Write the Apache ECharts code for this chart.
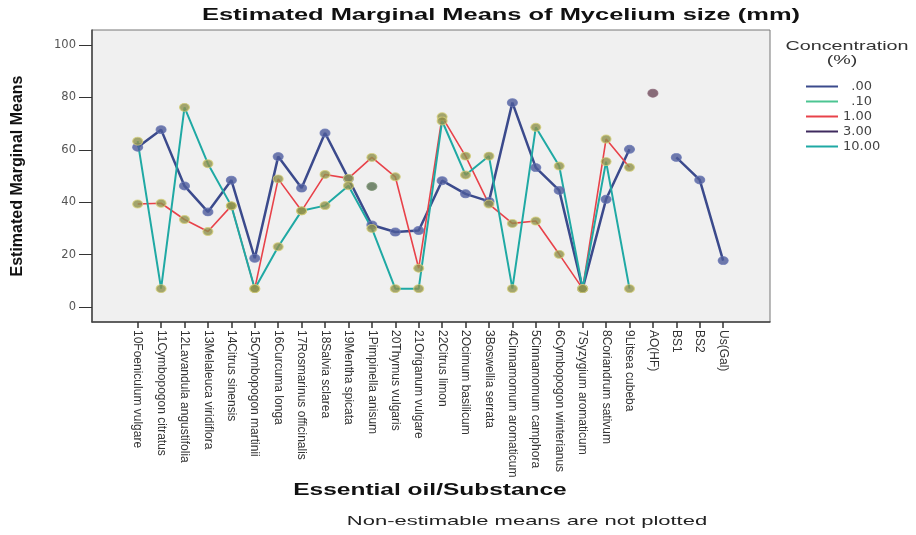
<!DOCTYPE html>
<html>
<head>
<meta charset="utf-8">
<script src="https://cdn.jsdelivr.net/npm/echarts@6/dist/echarts.min.js"></script>
<style>
html,body{margin:0;padding:0;background:#fff;}
#chart{width:916px;height:535px;}
</style>
</head>
<body>
<div id="chart"></div>
<script>
// ---- data ----
const categories = [
  '10Foeniculum vulgare','11Cymbopogon citratus','12Lavandula angustifolia','13Melaleuca viridiflora',
  '14Citrus sinensis','15Cymbopogon martinii','16Curcuma longa','17Rosmarinus officinalis',
  '18Salvia sclarea','19Mentha spicata','1Pimpinella anisum','20Thymus vulgaris',
  '21Origanum vulgare','22Citrus limon','2Ocimum basilicum','3Boswellia serrata',
  '4Cinnamomum aromaticum','5Cinnamomum camphora','6Cymbopogon winterianus','7Syzygium aromaticum',
  '8Coriandrum sativum','9Litsea cubeba','AO(HF)','BS1','BS2','Us(Gal)'
];
const seriesNames = ['.00', '.10', '1.00', '3.00', '10.00'];
const conc000 = [61.0, 67.7, 46.2, 36.3, 48.4, 18.6, 57.4, 45.4, 66.4, 49.0, 31.3, 28.6, 29.2, 48.2, 43.2, 40.3, 78.0, 53.2, 44.5, 7.0, 41.1, 60.2, null, 57.1, 48.5, 17.7];
const conc010 = [null, null, null, null, null, null, null, null, null, null, 46.0, null, null, null, null, null, null, null, null, null, null, null, null, null, null, null];
const conc100 = [39.3, 39.6, 33.4, 28.8, 38.6, 7.0, 48.9, 36.7, 50.6, 49.1, 57.1, 49.7, 14.8, 72.6, 57.6, 39.3, 31.9, 32.8, 20.1, 7.0, 64.1, 53.3, null, null, null, null];
const conc300 = [null, null, null, null, null, null, null, null, null, null, null, null, null, null, null, null, null, null, null, null, null, null, 81.6, null, null, null];
const conc1000 = [63.3, 7.0, 76.2, 54.7, 38.6, 7.0, 23.0, 36.7, 38.7, 46.3, 30.0, 7.0, 7.0, 71.0, 50.4, 57.6, 7.0, 68.6, 53.8, 7.0, 55.5, 7.0, null, null, null, null];
const yTickValues = [0, 20, 40, 60, 80, 100];

// ---- styling ----
const seriesValues = [conc000, conc010, conc100, conc300, conc1000];
const lineColors = ['#3b4a8c', '#4cc592', '#e8424a', '#3f2a5e', '#1fa9a4'];
const lineWidths = [2.5, 2, 1.6, 2, 2];
const markerFill = ['#4d5b9b', '#566e50', '#8e914c', '#6d4a5a', '#8e914c'];
const markerBorder = ['#6a78b5', '#7e9676', '#d6d07a', '#8d6a7a', '#d6d07a'];
const xTickValues = categories.map((c, i) => i + 1);

const chart = echarts.init(document.getElementById('chart'), null, {renderer: 'canvas'});

const series = [];
seriesValues.forEach((vals, k) => {
  series.push({
    name: seriesNames[k],
    type: 'line',
    data: vals.map((v, i) => [i + 1, v == null ? null : v]),
    connectNulls: false,
    showSymbol: false,
    symbol: 'none',
    z: 2,
    lineStyle: {color: lineColors[k], width: lineWidths[k]},
    itemStyle: {color: lineColors[k]},
    emphasis: {disabled: true},
    animation: false
  });
});
seriesValues.forEach((vals, k) => {
  series.push({
    name: seriesNames[k] + ' marker',
    type: 'scatter',
    data: vals.map((v, i) => v == null ? null : [i + 1, v]).filter(d => d),
    symbol: 'circle',
    symbolSize: [10, 8],
    z: 3,
    itemStyle: {color: markerFill[k], borderColor: markerBorder[k], borderWidth: 1},
    emphasis: {disabled: true},
    animation: false
  });
});

const option = {
  backgroundColor: '#ffffff',
  animation: false,
  grid: {
    left: 92, right: 146, top: 30, bottom: 213,
    show: true, backgroundColor: '#f0f0f0', borderColor: '#777', borderWidth: 1
  },
  legend: {
    data: seriesNames,
    orient: 'vertical',
    left: 801, top: 75,
    icon: 'rect',
    itemWidth: 32, itemHeight: 2,
    itemGap: 2,
    formatter: n => n.charAt(0) === '.' ? '\u2007' + n : n,
    textStyle: {fontFamily: 'DejaVu Sans', fontSize: 13, color: '#444', lineHeight: 13},
    selectedMode: false
  },
  xAxis: {
    type: 'value',
    min: -0.95, max: 28,
    splitLine: {show: false},
    axisLine: {onZero: false, lineStyle: {color: '#444', width: 1.5}},
    axisTick: {customValues: xTickValues, length: 6, lineStyle: {color: '#333', width: 1.5}},
    axisLabel: {
      customValues: xTickValues,
      formatter: v => categories[Math.round(v) - 1] || '',
      rotate: -90, fontSize: 12, fontFamily: 'Liberation Sans', color: '#333', margin: 8
    }
  },
  yAxis: {
    type: 'value',
    min: -5.73, max: 105.73,
    splitLine: {show: false},
    axisLine: {onZero: false, lineStyle: {color: '#444', width: 1.5}},
    axisTick: {customValues: yTickValues, length: 13, lineStyle: {color: '#333', width: 1}},
    axisLabel: {customValues: yTickValues, margin: 16, fontFamily: 'DejaVu Sans', fontSize: 11.5, color: '#555'},
    name: 'Estimated Marginal Means',
    nameLocation: 'middle',
    nameGap: 66,
    nameTextStyle: {fontFamily: 'Liberation Sans', fontWeight: 'bold', fontSize: 16, color: '#111'}
  },
  graphic: [
    {type: 'text', x: 501, y: 16, scaleX: 1.59, style: {text: 'Estimated Marginal Means of Mycelium size (mm)', font: 'bold 16px "Liberation Sans"', fill: '#111', align: 'center', verticalAlign: 'middle'}},
    {type: 'text', x: 430, y: 491, scaleX: 1.53, style: {text: 'Essential oil/Substance', font: 'bold 16px "Liberation Sans"', fill: '#111', align: 'center', verticalAlign: 'middle'}},
    {type: 'text', x: 527, y: 521, scaleX: 1.69, style: {text: 'Non-estimable means are not plotted', font: '13px "Liberation Sans"', fill: '#222', align: 'center', verticalAlign: 'middle'}},
    {type: 'text', x: 847, y: 46, scaleX: 1.52, style: {text: 'Concentration', font: '13px "Liberation Sans"', fill: '#333', align: 'center', verticalAlign: 'middle'}},
    {type: 'text', x: 842, y: 60, scaleX: 1.52, style: {text: '(%)', font: '13px "Liberation Sans"', fill: '#333', align: 'center', verticalAlign: 'middle'}}
  ],
  series: series
};
chart.setOption(option);
</script>
</body>
</html>
